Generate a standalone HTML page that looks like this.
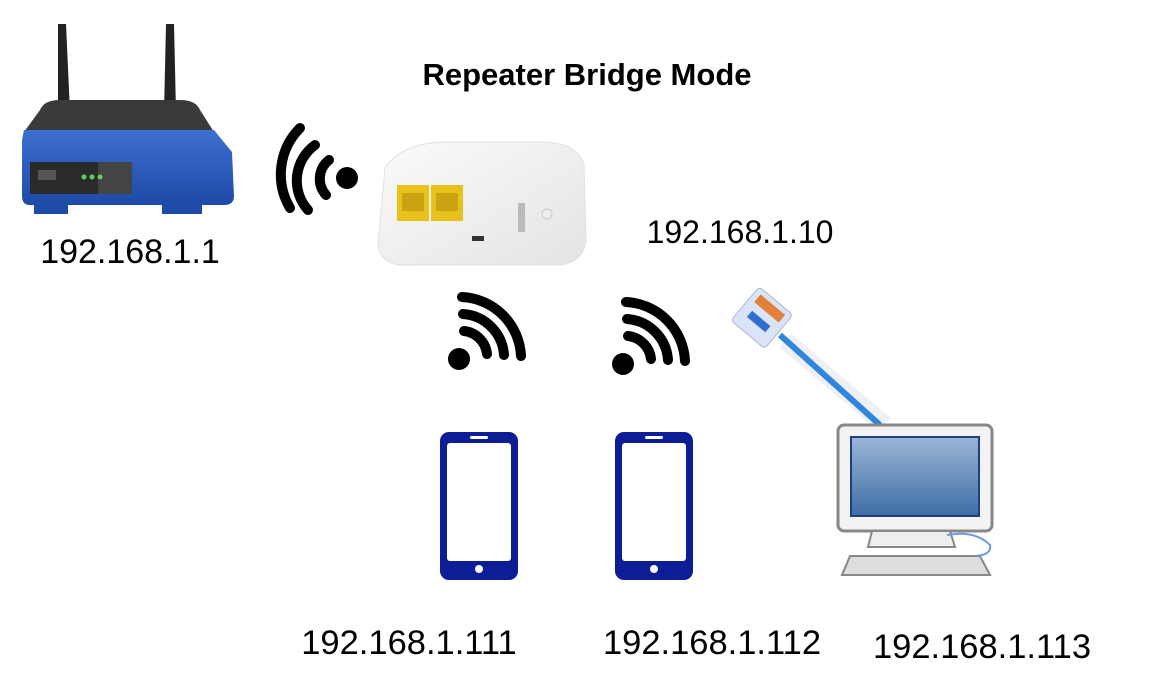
<!DOCTYPE html>
<html><head><meta charset="utf-8"><style>
html,body{margin:0;padding:0;background:#fff;}
svg{display:block}
text{font-family:"Liberation Sans",sans-serif;}
</style></head><body>
<svg width="1158" height="692" viewBox="0 0 1158 692" xmlns="http://www.w3.org/2000/svg">
<defs>
<linearGradient id="blue" x1="0" y1="0" x2="0" y2="1"><stop offset="0" stop-color="#3d6fd0"/><stop offset="1" stop-color="#1e4aa8"/></linearGradient>
<linearGradient id="scr" x1="0" y1="0" x2="0" y2="1"><stop offset="0" stop-color="#9ab6d6"/><stop offset="1" stop-color="#3f6ea6"/></linearGradient>
<linearGradient id="box" x1="0" y1="0" x2="1" y2="1"><stop offset="0" stop-color="#fafafa"/><stop offset="1" stop-color="#e4e4e4"/></linearGradient>
</defs>
<!-- Router -->
<path d="M58 24 L66 24 L70 112 L58 112 Z" fill="#222"/>
<path d="M166 24 L174 24 L176 112 L164 112 Z" fill="#222"/>
<path d="M40 110 Q44 100 60 100 L180 100 Q196 100 200 110 L214 132 L24 132 Z" fill="#3a3a3a"/>
<path d="M22 140 L24 130 L214 130 L232 152 L234 196 Q234 205 224 205 L30 205 Q22 205 22 196 Z" fill="url(#blue)"/>
<rect x="30" y="162" width="102" height="32" fill="#2a2a2a"/>
<rect x="98" y="162" width="34" height="32" fill="#444"/>
<rect x="38" y="170" width="18" height="10" fill="#555"/>
<circle cx="84" cy="177" r="2.5" fill="#5fd05f"/><circle cx="92" cy="177" r="2.5" fill="#5fd05f"/><circle cx="100" cy="177" r="2.5" fill="#5fd05f"/>
<rect x="34" y="200" width="34" height="14" fill="#1e4aa8"/><rect x="162" y="200" width="40" height="14" fill="#1e4aa8"/>
<text x="130" y="263" font-size="34" text-anchor="middle" fill="#000">192.168.1.1</text>
<!-- Title -->
<text x="587" y="85" font-size="31" font-weight="bold" text-anchor="middle" fill="#000">Repeater Bridge Mode</text>
<!-- left wifi -->
<g fill="none" stroke="#000" stroke-width="10" stroke-linecap="round">
<circle cx="347" cy="178" r="11" fill="#000" stroke="none"/>
<path d="M329 160 A24 24 0 0 0 326 195"/>
<path d="M315 145 A44 44 0 0 0 308 210"/>
<path d="M300 128 A66 66 0 0 0 290 208"/>
</g>
<!-- repeater -->
<path d="M385 168 Q400 145 440 142 L540 142 Q578 142 584 165 L586 240 Q584 262 560 265 L400 265 Q380 262 378 245 Z" fill="url(#box)" stroke="#e0e0e0"/>
<rect x="397" y="185" width="32" height="36" fill="#e8c21a"/>
<rect x="431" y="185" width="32" height="36" fill="#e8c21a"/>
<rect x="402" y="193" width="22" height="18" fill="#c9a412"/><rect x="436" y="193" width="22" height="18" fill="#c9a412"/>
<rect x="472" y="236" width="12" height="5" fill="#333"/>
<rect x="518" y="203" width="7" height="29" fill="#bbb"/>
<circle cx="547" cy="214" r="5" fill="#eee" stroke="#ccc"/>
<text x="740" y="243" font-size="32" text-anchor="middle" fill="#000">192.168.1.10</text>
<!-- right wifis -->
<g fill="none" stroke="#000" stroke-width="10" stroke-linecap="round">
<circle cx="459" cy="359" r="11" fill="#000" stroke="none"/>
<path d="M464 331 A26 26 0 0 1 487 354"/>
<path d="M463 314 A44 44 0 0 1 504 355"/>
<path d="M462 297 A62 62 0 0 1 521 356"/>
<circle cx="623" cy="364" r="11" fill="#000" stroke="none"/>
<path d="M628 336 A26 26 0 0 1 651 359"/>
<path d="M627 319 A44 44 0 0 1 668 360"/>
<path d="M626 302 A62 62 0 0 1 685 361"/>
</g>
<!-- phones -->
<rect x="440" y="432" width="78" height="148" rx="9" fill="#0c1d96"/>
<rect x="447" y="443" width="64" height="118" rx="3" fill="#fff"/>
<circle cx="479" cy="569" r="4" fill="#fff"/>
<rect x="470" y="436" width="18" height="3" rx="1.5" fill="#fff"/>
<rect x="615" y="432" width="78" height="148" rx="9" fill="#0c1d96"/>
<rect x="622" y="443" width="64" height="118" rx="3" fill="#fff"/>
<circle cx="654" cy="569" r="4" fill="#fff"/>
<rect x="645" y="436" width="18" height="3" rx="1.5" fill="#fff"/>
<!-- cable -->
<path d="M785 340 L885 425" stroke="#eef0f5" stroke-width="18"/>
<path d="M780 335 L880 425" stroke="#2e86dd" stroke-width="6"/>
<g transform="rotate(40 760 320)">
<rect x="738" y="295" width="44" height="44" rx="4" fill="#dbe4f5" stroke="#aab8d8"/>
<rect x="744" y="300" width="32" height="10" fill="#e0803a"/>
<rect x="748" y="318" width="24" height="8" fill="#2e6fd0"/>
</g>
<!-- computer -->
<rect x="838" y="425" width="154" height="106" rx="6" fill="#f3f3f3" stroke="#888" stroke-width="3"/>
<rect x="851" y="437" width="128" height="79" fill="url(#scr)" stroke="#1d3f86" stroke-width="2"/>
<path d="M872 531 L950 531 L955 547 L868 547 Z" fill="#eee" stroke="#888" stroke-width="2"/>
<path d="M842 575 L850 556 L980 556 L990 575 Z" fill="#ddd" stroke="#888" stroke-width="2"/>
<path d="M947 535 Q975 530 990 545 Q992 555 975 556" fill="none" stroke="#6a9be0" stroke-width="2"/>
<!-- labels -->
<text x="409" y="654" font-size="34.5" text-anchor="middle" fill="#000">192.168.1.111</text>
<text x="712" y="654" font-size="34.5" text-anchor="middle" fill="#000">192.168.1.112</text>
<text x="982" y="658" font-size="34.5" text-anchor="middle" fill="#000">192.168.1.113</text>
</svg>
</body></html>
